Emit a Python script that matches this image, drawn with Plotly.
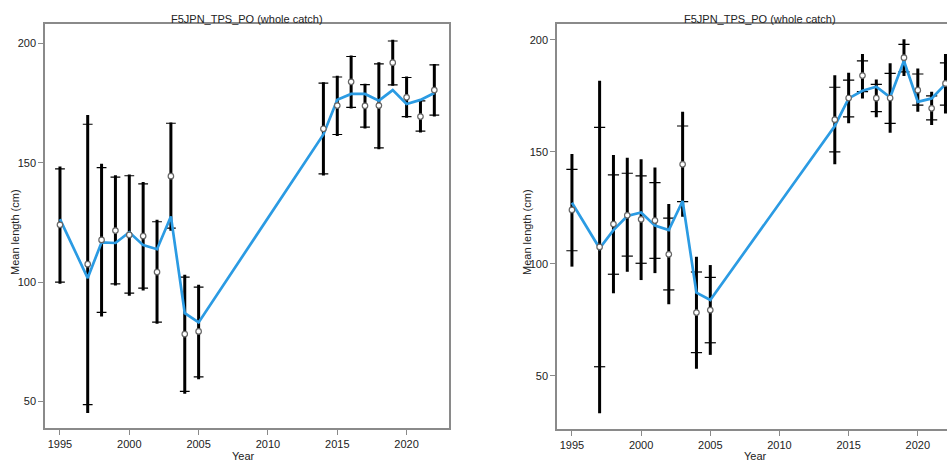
import plotly.graph_objects as go

# ---------------- data ----------------
years = [1995, 1997, 1998, 1999, 2000, 2001, 2002, 2003, 2004, 2005,
         2014, 2015, 2016, 2017, 2018, 2019, 2020, 2021, 2022]
obs = [124.0, 107.5, 117.7, 121.6, 119.8, 119.3, 104.2, 144.4, 78.2, 79.3,
       164.3, 174.0, 184.0, 173.9, 174.0, 192.0, 177.5, 169.4, 180.5]

# left panel
exp_left = [126.4, 101.7, 116.7, 116.4, 120.9, 115.5, 113.8, 127.5, 87.0, 83.1,
            161.9, 176.5, 178.9, 178.9, 176.1, 180.5, 174.7, 176.4, 179.3]
hi_left = [148.5, 170.1, 149.6, 144.8, 145.1, 142.0, 126.1, 166.9, 103.1, 98.9,
           183.8, 186.5, 195.0, 183.2, 192.2, 201.6, 186.2, 176.4, 191.5]
lo_left = [99.3, 45.1, 85.6, 98.6, 94.3, 96.5, 82.5, 121.5, 53.2, 59.3,
           144.7, 161.3, 172.8, 164.4, 155.7, 182.3, 168.9, 162.7, 169.4]
caphi_left = [147.5, 166.2, 148.0, 144.0, 144.6, 141.2, 125.3, 166.6, 102.1, 97.9,
              183.4, 186.0, 194.6, 182.8, 191.5, 201.1, 185.8, 176.0, 191.1]
caplo_left = [100.0, 48.6, 87.3, 99.3, 95.4, 97.5, 83.2, 122.6, 54.2, 60.3,
              145.4, 161.9, 173.3, 165.0, 156.3, 182.7, 169.4, 163.3, 170.0]

# right panel
exp_right = [127.2, 106.9, 115.0, 121.3, 122.9, 117.0, 115.0, 128.0, 87.1, 83.8,
             161.5, 173.8, 177.2, 179.0, 174.3, 190.6, 172.3, 173.8, 180.2]
hi_right = [149.0, 181.7, 148.5, 147.3, 146.7, 143.0, 126.7, 167.9, 103.1, 99.4,
            184.2, 185.3, 193.6, 182.3, 189.5, 200.2, 187.2, 176.8, 193.6]
lo_right = [98.7, 33.2, 86.8, 96.4, 92.7, 95.8, 81.9, 121.0, 53.1, 59.3,
            144.4, 162.7, 173.8, 165.4, 158.5, 183.8, 167.9, 161.9, 167.1]
caphi_right = [142.1, 160.9, 139.7, 140.4, 139.2, 136.2, 120.4, 161.5, 96.3, 93.9,
               178.8, 182.0, 190.6, 180.1, 185.0, 197.9, 184.7, 174.9, 189.7]
caplo_right = [105.8, 54.0, 95.3, 103.4, 100.2, 102.4, 88.3, 127.7, 60.3, 64.7,
               149.9, 165.6, 176.8, 167.9, 162.7, 185.7, 170.8, 164.2, 170.8]

title_text = "F5JPN_TPS_PO (whole catch)"
xlab = "Year"
ylab = "Mean length (cm)"
xticks = [1995, 2000, 2005, 2010, 2015, 2020]
yticks = [50, 100, 150, 200]

# ---------------- styling ----------------
W, H = 947, 462
FONT = "Liberation Sans, Arial, sans-serif"
BLUE = "#2b9be3"
GREY = "#8a8a8a"

fig = go.Figure()


def seg(xs, lo, hi):
    X, Y = [], []
    for x, a, b in zip(xs, lo, hi):
        X += [x, x, None]
        Y += [a, b, None]
    return X, Y


def add_panel(xa, ya, exp, lo, hi, clo, chi, cap_w):
    X, Y = seg(years, lo, hi)
    fig.add_trace(go.Scatter(x=X, y=Y, mode="lines", xaxis=xa, yaxis=ya,
                             line=dict(color="black", width=3), hoverinfo="skip",
                             showlegend=False))
    fig.add_trace(go.Scatter(x=years + years, y=clo + chi, mode="markers",
                             xaxis=xa, yaxis=ya, showlegend=False,
                             marker=dict(symbol="line-ew", size=cap_w,
                                         line=dict(color="black", width=1.2))))
    fig.add_trace(go.Scatter(x=years, y=exp, mode="lines", xaxis=xa, yaxis=ya,
                             line=dict(color=BLUE, width=2.7), showlegend=False))
    fig.add_trace(go.Scatter(x=years, y=obs, mode="markers", xaxis=xa, yaxis=ya,
                             showlegend=False,
                             marker=dict(symbol="circle", size=5.5, color="white",
                                         line=dict(color="#666666", width=1.2))))


add_panel("x", "y", exp_left, lo_left, hi_left, caplo_left, caphi_left, 7)
add_panel("x2", "y2", exp_right, lo_right, hi_right, caplo_right, caphi_right, 8)

axis_common = dict(showgrid=False, zeroline=False, showline=True, linecolor=GREY,
                   linewidth=1.5, ticks="outside", ticklen=5, tickwidth=1,
                   tickcolor=GREY, tickfont=dict(family=FONT, size=11, color="#222222"))

fig.update_layout(
    width=W, height=H, margin=dict(l=0, r=0, t=0, b=0),
    plot_bgcolor="white", paper_bgcolor="white",
    xaxis=dict(domain=[45 / W, 449.3 / W], range=[1993.92, 2023.08],
               tickvals=xticks, mirror=True, anchor="y", **axis_common),
    yaxis=dict(domain=[(H - 428.3) / H, (H - 24.3) / H], range=[38.7, 208.1],
               tickvals=yticks, mirror=True, anchor="x", **axis_common),
    xaxis2=dict(domain=[557 / W, 1.0], range=[1993.92, 2022.11],
                tickvals=xticks, mirror=True, anchor="y2", **axis_common),
    yaxis2=dict(domain=[(H - 429) / H, (H - 24.3) / H], range=[26.2, 206.9],
                tickvals=yticks, mirror=False, anchor="x2", **axis_common),
)

ann_font = dict(family=FONT, size=11, color="#222222")
anns = [
    dict(text=title_text, x=247 / W, y=(H - 19) / H),
    dict(text=title_text, x=760 / W, y=(H - 19) / H),
    dict(text=xlab, x=243 / W, y=(H - 456) / H),
    dict(text=xlab, x=755 / W, y=(H - 456) / H),
]
for a in anns:
    fig.add_annotation(xref="paper", yref="paper", showarrow=False,
                       xanchor="center", yanchor="middle", font=ann_font, **a)
for xp in (15, 527):
    fig.add_annotation(text=ylab, xref="paper", yref="paper", x=xp / W,
                       y=(H - 232) / H, textangle=-90, showarrow=False,
                       xanchor="center", yanchor="middle", font=ann_font)

fig.write_html(
    "out.html",
    config={"displayModeBar": False},
    post_script="document.body.style.margin='0';document.body.style.overflow='hidden';",
)
